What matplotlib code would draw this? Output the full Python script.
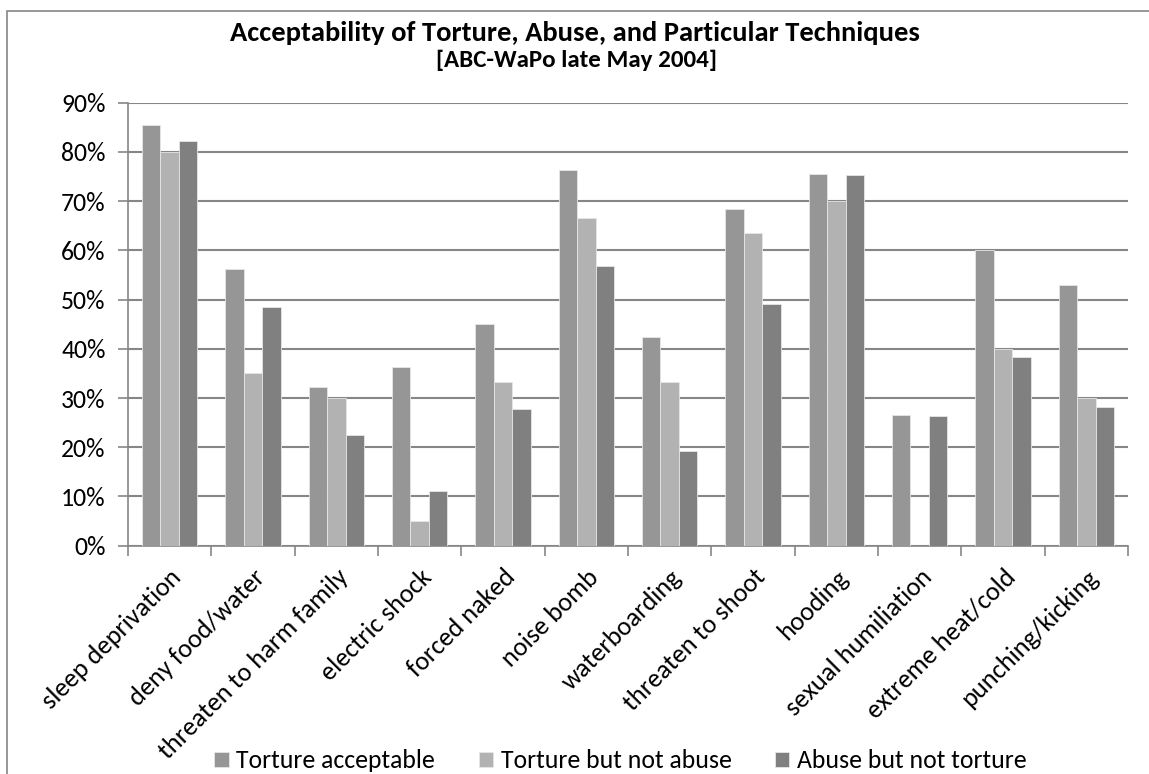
import numpy as np
import matplotlib.pyplot as plt
from matplotlib.patches import Rectangle
from matplotlib.ticker import FixedLocator, PercentFormatter
from matplotlib.transforms import ScaledTranslation

plt.rcParams['font.family'] = ['Carlito', 'Liberation Sans Narrow', 'DejaVu Sans']

# techniques and the three series (percent)
techniques = ['sleep deprivation', 'deny food/water', 'threaten to harm family',
              'electric shock', 'forced naked', 'noise bomb', 'waterboarding',
              'threaten to shoot', 'hooding', 'sexual humiliation',
              'extreme heat/cold', 'punching/kicking']
torture_ok = [85.5, 56.2, 32.2, 36.3, 45.1, 76.4, 42.4, 68.5, 75.6, 26.6, 60.0, 52.9]
torture_not_abuse = [80.0, 35.0, 30.0, 5.0, 33.2, 66.6, 33.2, 63.5, 70.0, 0.0, 40.0, 30.0]
abuse_not_torture = [82.2, 48.4, 22.5, 11.2, 27.8, 56.8, 19.3, 49.2, 75.4, 26.3, 38.4, 28.2]

series = ['Torture acceptable', 'Torture but not abuse', 'Abuse but not torture']
colors = ['#969696', '#b2b2b2', '#808080']

fig = plt.figure(figsize=(11.49, 7.74), dpi=100)
ax = fig.add_axes([0.1114, 0.295, 0.8703, 0.5723])

# outer chart frame (right and bottom edges fall outside the image)
fig.patches.append(Rectangle((7 / 1149, -0.1), 1.2, 1 - 11 / 774 + 0.1,
                             transform=fig.transFigure, fill=False,
                             edgecolor='#868686', lw=1.2))

x = np.arange(len(techniques))
w = 0.222
for k, (vals, c, name) in enumerate(zip([torture_ok, torture_not_abuse, abuse_not_torture],
                                         colors, series)):
    ax.bar(x + (k - 1) * w, vals, w, color=c, edgecolor='#e6e6e6', lw=0.6,
           label=name, zorder=3)

ax.set_xlim(-0.5, len(techniques) - 0.5)
ax.set_ylim(0, 90)
ax.set_yticks(np.arange(0, 91, 10))
ax.yaxis.set_major_formatter(PercentFormatter(decimals=0))
ax.grid(axis='y', color='#868686', lw=1.5, zorder=0)

ax.set_xticks(x)
ax.set_xticklabels(techniques, rotation=45, ha='right', rotation_mode='anchor', fontsize=19)
shift = ScaledTranslation(-16 / 100, 0, fig.dpi_scale_trans)
for lab in ax.get_xticklabels():
    lab.set_transform(lab.get_transform() + shift)
ax.tick_params(axis='x', which='major', length=0, pad=14)
ax.xaxis.set_minor_locator(FixedLocator(np.arange(-0.5, len(techniques), 1)))
ax.tick_params(axis='x', which='minor', length=7, width=1.2, color='#868686')
ax.tick_params(axis='y', length=7, width=1.2, color='#868686', labelsize=18.5, pad=9)

for s in ['top', 'right']:
    ax.spines[s].set_visible(False)
for s in ['left', 'bottom']:
    ax.spines[s].set_color('#868686')
    ax.spines[s].set_linewidth(1.2)

fig.text(0.5, 0.958, 'Acceptability of Torture, Abuse, and Particular Techniques',
         ha='center', va='center', fontsize=20.5, fontweight='bold')
fig.text(0.502, 0.922, '[ABC-WaPo late May 2004]', ha='center', va='center',
         fontsize=18, fontweight='bold')

fig.legend(loc='center', bbox_to_anchor=(0.54, 0.017), ncol=3, frameon=False,
           fontsize=18.5, handlelength=0.55, handleheight=0.55, handletextpad=0.3,
           columnspacing=1.7)

plt.savefig('out.png')
